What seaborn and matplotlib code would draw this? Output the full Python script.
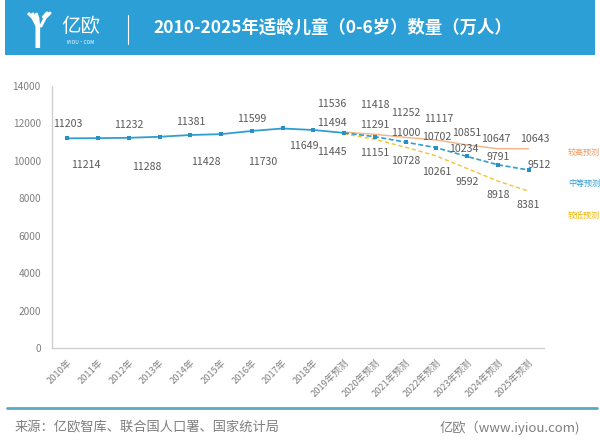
import matplotlib
matplotlib.use("Agg")
import matplotlib.pyplot as plt
import seaborn as sns
import pandas as pd
from matplotlib.patches import Rectangle

# Data
years_hist = ['2010年', '2011年', '2012年', '2013年', '2014年', '2015年', '2016年', '2017年', '2018年']
years_fc = ['2019年预测', '2020年预测', '2021年预测', '2022年预测', '2023年预测', '2024年预测', '2025年预测']
hist = [11203, 11214, 11232, 11288, 11381, 11428, 11599, 11730, 11649]
high = [11536, 11418, 11252, 11117, 10851, 10647, 10643]
mid = [11494, 11291, 11000, 10702, 10234, 9791, 9512]
low = [11445, 11151, 10728, 10261, 9592, 8918, 8381]
y_ticks = [0, 2000, 4000, 6000, 8000, 10000, 12000, 14000]

title = '2010-2025年适龄儿童（0-6岁）数量（万人）'
source = '来源：亿欧智库、联合国人口署、国家统计局'
site = '亿欧（www.iyiou.com)'

# Label offsets (pixels) for each data label
hist_off = [(0, 14), (-12, -27), (0, 13), (-13, -30), (0, 13), (-15, -28), (0, 12), (-20, -34), (-10, -16)]
high_off = [(-12, 28), (0, 29), (0, 24), (2, 21), (0, 12), (-2, 10), (6, 10)]
mid_off = [(-12, 10), (0, 12), (0, 9), (0, 11), (-3, 7), (0, 8), (11, 5)]
low_off = [(-12, -18), (0, -14), (0, -14), (0, -16), (0, -14), (0, -14), (0, -14)]

BLUE = '#2f9fd2'
ORANGE = '#f4b183'
YELLOW = '#f2c230'
GRAY = '#7f7f7f'
LABEL = '#595959'

sns.set_style('white')
plt.rcParams['font.family'] = ['Noto Sans CJK SC', 'DejaVu Sans']

fig = plt.figure(figsize=(6, 4.46), dpi=100)

# background overlay in pixel coords for header / footer
bg = fig.add_axes([0, 0, 1, 1], zorder=0)
bg.set_xlim(0, 600)
bg.set_ylim(446, 0)
bg.axis('off')

bg.add_patch(Rectangle((5, 0), 590, 55, color='#2b9fd6', lw=0))
# logo icon (rough Y shape)
for dx, w in [(0, 2.2), (4, 2.2), (8, 2.2)]:
    bg.plot([28 + dx, 33 + dx * 0.6, 37 + dx * 0.2, 37 + dx * 0.2],
            [13, 18, 26, 48], color='white', lw=w, solid_capstyle='butt')
bg.plot([50, 45, 41], [13, 18, 26], color='white', lw=2.2)
bg.plot([47, 43.5], [13, 17], color='white', lw=2.2)
bg.text(81, 26, '亿欧', color='white', fontsize=14, ha='center', va='center', fontweight='light')
bg.text(81, 43, 'IYIOU·COM', color='white', fontsize=3.5, ha='center', va='center')
bg.plot([128, 128], [15, 44], color='white', lw=0.8)
bg.text(153, 28, title, color='white', fontsize=12.5, fontweight='bold', ha='left', va='center')

# footer
bg.plot([7, 597], [408, 408], color='#5aa9c4', lw=2)
bg.text(15, 428, source, color=GRAY, fontsize=9.5, ha='left', va='center', fontweight='light')
bg.text(580, 428, site, color=GRAY, fontsize=9.5, ha='right', va='center', fontweight='light')

# forecast legend labels
bg.text(568, 152, '较高预测', color='#ee9a5a', fontsize=5.8, ha='left', va='center')
bg.text(568, 183, '中等预测', color=BLUE, fontsize=5.8, ha='left', va='center')
bg.text(568, 215, '较低预测', color='#eeb400', fontsize=5.8, ha='left', va='center')

# main chart
ax = fig.add_axes([52 / 600, 98 / 446, 492 / 600, 262 / 446], zorder=1)
df_hist = pd.DataFrame({'year': years_hist + years_fc[:1], 'value': hist + mid[:1]})
df_fc = pd.DataFrame({'year': years_fc, 'high': high, 'mid': mid, 'low': low})

sns.lineplot(data=df_hist, x='year', y='value', sort=False, ax=ax, color=BLUE, lw=1.3,
             marker='s', markersize=3.3, markeredgewidth=0, markerfacecolor='#2a8fc4')
sns.lineplot(data=df_fc, x='year', y='high', sort=False, ax=ax, color=ORANGE, lw=1.0)
sns.lineplot(data=df_fc, x='year', y='low', sort=False, ax=ax, color=YELLOW, lw=1.0, linestyle=(0, (3, 2)))
sns.lineplot(data=df_fc, x='year', y='mid', sort=False, ax=ax, color=BLUE, lw=1.2, linestyle=(0, (3, 1.5)),
             marker='s', markersize=3.3, markeredgewidth=0, markerfacecolor='#2a8fc4')


def put_labels(xs, vals, offs):
    for x, v, (dx, dy) in zip(xs, vals, offs):
        ax.annotate(str(v), (x, v), xytext=(dx, dy), textcoords='offset pixels',
                    ha='center', va='center', fontsize=7.6, color=LABEL, fontweight='light')


put_labels(years_hist, hist, hist_off)
put_labels(years_fc, high, high_off)
put_labels(years_fc, mid, mid_off)
put_labels(years_fc, low, low_off)

ax.set_xlim(-0.5, 15.5)
ax.set_ylim(0, 14000)
ax.set_yticks(y_ticks)
ax.set_yticklabels([str(t) for t in y_ticks])
ax.set_xlabel('')
ax.set_ylabel('')
for s in ['top', 'right']:
    ax.spines[s].set_visible(False)
for s in ['left', 'bottom']:
    ax.spines[s].set_color('#d0d0d0')
    ax.spines[s].set_linewidth(1)
ax.tick_params(axis='y', length=0, pad=8, labelsize=7.3, labelcolor=GRAY)
ax.tick_params(axis='x', length=0, pad=7, labelsize=6.7, labelcolor=GRAY)
plt.setp(ax.get_xticklabels(), rotation=45, ha='right', rotation_mode='anchor', fontweight='light')
plt.setp(ax.get_yticklabels(), fontweight='light')

fig.savefig('out.png', dpi=100)
